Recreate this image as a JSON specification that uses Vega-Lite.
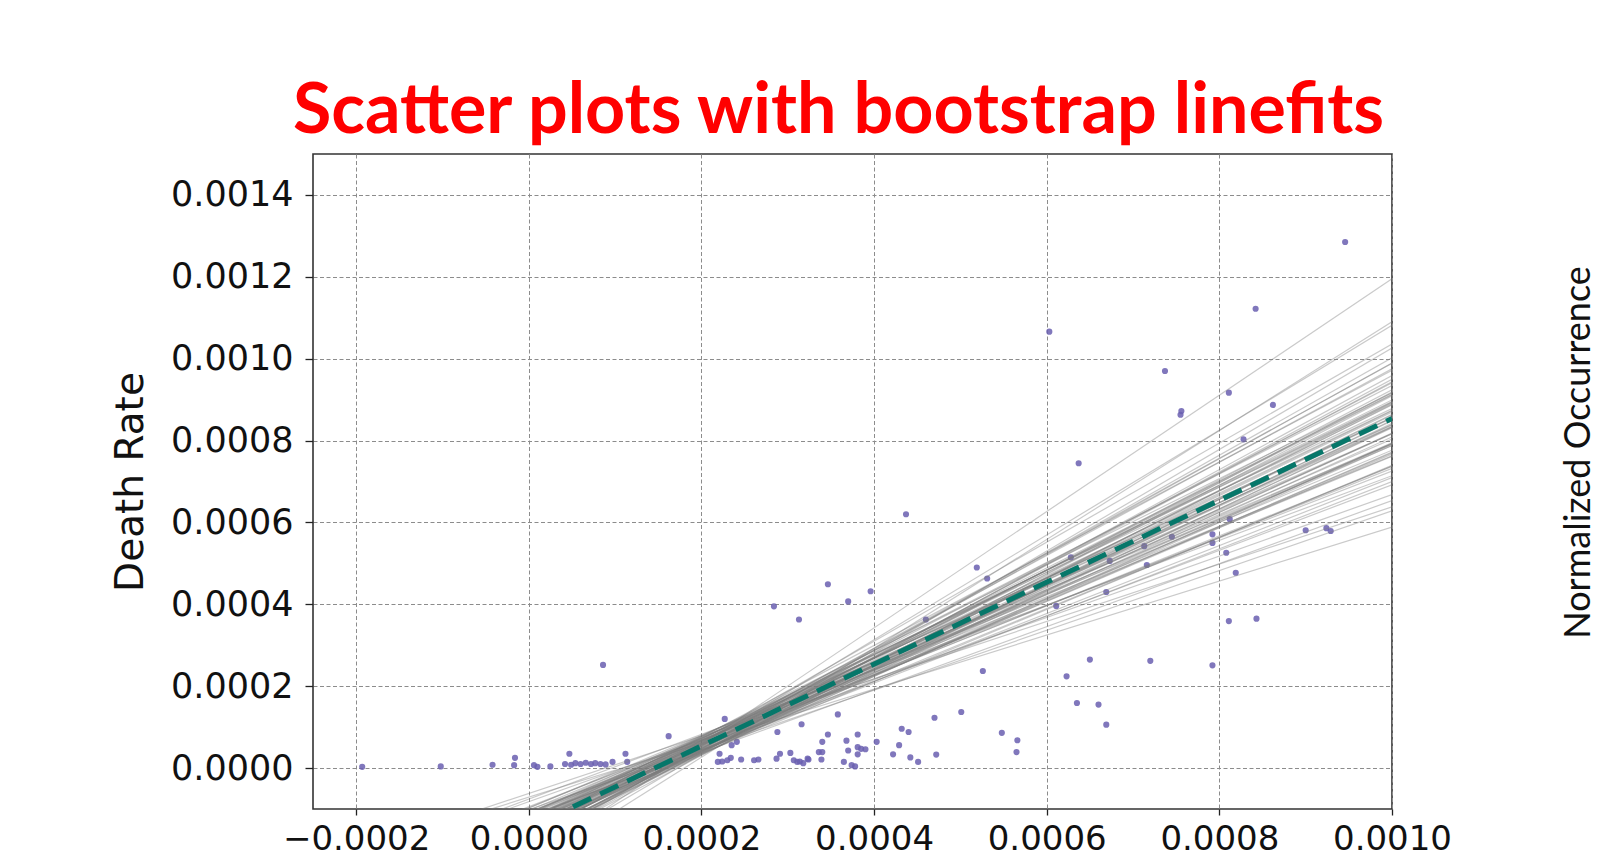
{
  "$schema": "https://vega.github.io/schema/vega-lite/v6.json",
  "width": 1079,
  "height": 655,
  "autosize": "none",
  "padding": {"left": 313, "top": 154, "right": 209, "bottom": 53},
  "background": "white",
  "title": {
    "text": "Scatter plots with bootstrap linefits",
    "font": "Lato",
    "fontSize": 70,
    "fontWeight": "bold",
    "color": "#ff0000",
    "anchor": "middle",
    "dx": -14,
    "offset": 6
  },
  "config": {
    "view": {"stroke": "#333333", "strokeWidth": 1.6},
    "axis": {
      "labelFont": "DejaVu Sans",
      "labelColor": "#111111",
      "tickColor": "#222222",
      "tickWidth": 1.3,
      "domain": false,
      "gridColor": "#8c8c8c",
      "gridDash": [4, 2.5],
      "gridWidth": 1,
      "gridOpacity": 1,
      "labelOverlap": false,
      "labelFlush": false,
      "labelBound": false
    },
    "axisX": {"labelFontSize": 34, "tickSize": 6, "labelPadding": 7},
    "axisY": {"labelFontSize": 35, "tickSize": 8, "labelPadding": 12}
  },
  "layer": [
    {
      "layer": [
        {
          "data": {
            "values": [
              {"x": -1.93e-4, "y": 0.03e-4}, {"x": -1.02e-4, "y": 0.04e-4}, {"x": -0.42e-4, "y": 0.08e-4},
              {"x": -0.17e-4, "y": 0.07e-4}, {"x": -0.16e-4, "y": 0.25e-4}, {"x": 0.06e-4, "y": 0.07e-4},
              {"x": 0.10e-4, "y": 0.03e-4}, {"x": 0.25e-4, "y": 0.04e-4}, {"x": 0.42e-4, "y": 0.10e-4},
              {"x": 0.47e-4, "y": 0.35e-4}, {"x": 0.49e-4, "y": 0.08e-4}, {"x": 0.54e-4, "y": 0.12e-4},
              {"x": 0.60e-4, "y": 0.10e-4}, {"x": 0.66e-4, "y": 0.13e-4}, {"x": 0.72e-4, "y": 0.10e-4},
              {"x": 0.77e-4, "y": 0.12e-4}, {"x": 0.83e-4, "y": 0.10e-4}, {"x": 0.89e-4, "y": 0.09e-4},
              {"x": 0.97e-4, "y": 0.15e-4}, {"x": 1.12e-4, "y": 0.35e-4}, {"x": 1.14e-4, "y": 0.15e-4},
              {"x": 0.86e-4, "y": 2.52e-4},
              {"x": 1.62e-4, "y": 0.78e-4}, {"x": 2.27e-4, "y": 1.20e-4}, {"x": 2.84e-4, "y": 3.95e-4},
              {"x": 3.13e-4, "y": 3.63e-4}, {"x": 2.88e-4, "y": 0.88e-4}, {"x": 3.16e-4, "y": 1.07e-4},
              {"x": 2.41e-4, "y": 0.64e-4}, {"x": 2.35e-4, "y": 0.56e-4}, {"x": 2.21e-4, "y": 0.35e-4},
              {"x": 2.19e-4, "y": 0.15e-4}, {"x": 2.24e-4, "y": 0.16e-4}, {"x": 2.30e-4, "y": 0.19e-4},
              {"x": 2.34e-4, "y": 0.25e-4}, {"x": 2.46e-4, "y": 0.21e-4}, {"x": 2.61e-4, "y": 0.19e-4},
              {"x": 2.66e-4, "y": 0.21e-4}, {"x": 2.87e-4, "y": 0.23e-4}, {"x": 2.91e-4, "y": 0.35e-4},
              {"x": 3.03e-4, "y": 0.37e-4}, {"x": 3.07e-4, "y": 0.19e-4}, {"x": 3.11e-4, "y": 0.15e-4},
              {"x": 3.14e-4, "y": 0.16e-4}, {"x": 3.18e-4, "y": 0.12e-4}, {"x": 3.24e-4, "y": 0.21e-4},
              {"x": 3.465e-4, "y": 4.49e-4}, {"x": 3.96e-4, "y": 4.32e-4}, {"x": 3.70e-4, "y": 4.07e-4},
              {"x": 3.58e-4, "y": 1.31e-4}, {"x": 3.465e-4, "y": 0.82e-4}, {"x": 3.81e-4, "y": 0.82e-4},
              {"x": 3.40e-4, "y": 0.64e-4}, {"x": 3.68e-4, "y": 0.67e-4}, {"x": 4.03e-4, "y": 0.64e-4},
              {"x": 4.32e-4, "y": 0.96e-4}, {"x": 4.40e-4, "y": 0.88e-4}, {"x": 4.29e-4, "y": 0.56e-4},
              {"x": 4.22e-4, "y": 0.335e-4}, {"x": 4.42e-4, "y": 0.26e-4}, {"x": 4.51e-4, "y": 0.15e-4},
              {"x": 3.36e-4, "y": 0.39e-4}, {"x": 3.40e-4, "y": 0.39e-4}, {"x": 3.39e-4, "y": 0.21e-4},
              {"x": 3.65e-4, "y": 0.15e-4}, {"x": 3.70e-4, "y": 0.43e-4}, {"x": 3.74e-4, "y": 0.07e-4},
              {"x": 3.78e-4, "y": 0.04e-4}, {"x": 3.81e-4, "y": 0.51e-4}, {"x": 3.85e-4, "y": 0.47e-4},
              {"x": 3.90e-4, "y": 0.46e-4}, {"x": 3.81e-4, "y": 0.335e-4}, {"x": 3.23e-4, "y": 0.23e-4},
              {"x": 4.37e-4, "y": 6.20e-4}, {"x": 4.60e-4, "y": 3.63e-4}, {"x": 4.70e-4, "y": 1.23e-4},
              {"x": 4.72e-4, "y": 0.33e-4},
              {"x": 5.19e-4, "y": 4.90e-4}, {"x": 5.31e-4, "y": 4.63e-4}, {"x": 5.26e-4, "y": 2.37e-4},
              {"x": 5.01e-4, "y": 1.37e-4}, {"x": 5.48e-4, "y": 0.86e-4}, {"x": 5.66e-4, "y": 0.68e-4},
              {"x": 5.65e-4, "y": 0.39e-4},
              {"x": 6.03e-4, "y": 10.66e-4}, {"x": 6.37e-4, "y": 7.445e-4}, {"x": 6.11e-4, "y": 3.96e-4},
              {"x": 6.28e-4, "y": 5.15e-4}, {"x": 6.73e-4, "y": 5.06e-4}, {"x": 7.13e-4, "y": 5.42e-4},
              {"x": 7.16e-4, "y": 4.96e-4}, {"x": 7.45e-4, "y": 5.65e-4}, {"x": 6.69e-4, "y": 4.30e-4},
              {"x": 6.50e-4, "y": 2.65e-4}, {"x": 7.20e-4, "y": 2.62e-4}, {"x": 6.23e-4, "y": 2.24e-4},
              {"x": 6.35e-4, "y": 1.59e-4}, {"x": 6.60e-4, "y": 1.55e-4}, {"x": 6.69e-4, "y": 1.06e-4},
              {"x": 7.37e-4, "y": 9.70e-4}, {"x": 7.56e-4, "y": 8.72e-4}, {"x": 7.55e-4, "y": 8.63e-4},
              {"x": 9.457e-4, "y": 12.85e-4}, {"x": 8.42e-4, "y": 11.22e-4}, {"x": 8.11e-4, "y": 9.17e-4},
              {"x": 8.62e-4, "y": 8.87e-4}, {"x": 8.28e-4, "y": 8.03e-4}, {"x": 8.12e-4, "y": 6.08e-4},
              {"x": 9.00e-4, "y": 5.81e-4}, {"x": 9.24e-4, "y": 5.86e-4}, {"x": 9.29e-4, "y": 5.79e-4},
              {"x": 7.92e-4, "y": 5.71e-4}, {"x": 7.92e-4, "y": 5.50e-4}, {"x": 8.08e-4, "y": 5.26e-4},
              {"x": 8.19e-4, "y": 4.77e-4}, {"x": 8.11e-4, "y": 3.59e-4}, {"x": 8.43e-4, "y": 3.65e-4},
              {"x": 7.92e-4, "y": 2.51e-4}
            ]
          },
          "mark": {"type": "circle", "size": 38, "color": "#6a5fb0", "opacity": 0.85, "clip": true},
          "encoding": {
            "x": {
              "field": "x", "type": "quantitative", "title": null,
              "scale": {"domain": [-0.00025, 0.001], "nice": false, "zero": false},
              "axis": {"values": [-0.0002, 0, 0.0002, 0.0004, 0.0006, 0.0008, 0.001], "format": ".4f", "grid": true}
            },
            "y": {
              "field": "y", "type": "quantitative", "title": "Death Rate",
              "scale": {"domain": [-0.0001, 0.0015], "nice": false, "zero": false},
              "axis": {
                "values": [0, 0.0002, 0.0004, 0.0006, 0.0008, 0.001, 0.0012, 0.0014],
                "format": ".4f", "grid": true,
                "titleFont": "DejaVu Sans", "titleFontSize": 39, "titleFontWeight": "normal",
                "titleColor": "#111111", "titlePadding": 20
              }
            }
          }
        },
        {
          "data": {
            "values": [
              {"x1": -2e-4, "y1": -2.032e-4, "x2": 10e-4, "y2": 5.888e-4},
              {"x1": -2e-4, "y1": -2.02e-4, "x2": 10e-4, "y2": 6.38e-4},
              {"x1": -2e-4, "y1": -2.476e-4, "x2": 10e-4, "y2": 6.284e-4},
              {"x1": -2e-4, "y1": -2.32e-4, "x2": 10e-4, "y2": 6.68e-4},
              {"x1": -2e-4, "y1": -2.704e-4, "x2": 10e-4, "y2": 6.536e-4},
              {"x1": -2e-4, "y1": -2.338e-4, "x2": 10e-4, "y2": 7.142e-4},
              {"x1": -2e-4, "y1": -2.68e-4, "x2": 10e-4, "y2": 6.92e-4},
              {"x1": -2e-4, "y1": -2.584e-4, "x2": 10e-4, "y2": 7.256e-4},
              {"x1": -2e-4, "y1": -2.866e-4, "x2": 10e-4, "y2": 7.094e-4},
              {"x1": -2e-4, "y1": -2.758e-4, "x2": 10e-4, "y2": 7.322e-4},
              {"x1": -2e-4, "y1": -2.83e-4, "x2": 10e-4, "y2": 7.37e-4},
              {"x1": -2e-4, "y1": -2.692e-4, "x2": 10e-4, "y2": 7.628e-4},
              {"x1": -2e-4, "y1": -3.064e-4, "x2": 10e-4, "y2": 7.376e-4},
              {"x1": -2e-4, "y1": -2.824e-4, "x2": 10e-4, "y2": 7.616e-4},
              {"x1": -2e-4, "y1": -3.166e-4, "x2": 10e-4, "y2": 7.394e-4},
              {"x1": -2e-4, "y1": -2.758e-4, "x2": 10e-4, "y2": 7.922e-4},
              {"x1": -2e-4, "y1": -3.10e-4, "x2": 10e-4, "y2": 7.70e-4},
              {"x1": -2e-4, "y1": -2.92e-4, "x2": 10e-4, "y2": 7.88e-4},
              {"x1": -2e-4, "y1": -3.202e-4, "x2": 10e-4, "y2": 7.718e-4},
              {"x1": -2e-4, "y1": -3.094e-4, "x2": 10e-4, "y2": 7.946e-4},
              {"x1": -2e-4, "y1": -3.124e-4, "x2": 10e-4, "y2": 7.916e-4},
              {"x1": -2e-4, "y1": -2.986e-4, "x2": 10e-4, "y2": 8.174e-4},
              {"x1": -2e-4, "y1": -3.358e-4, "x2": 10e-4, "y2": 7.922e-4},
              {"x1": -2e-4, "y1": -3.118e-4, "x2": 10e-4, "y2": 8.162e-4},
              {"x1": -2e-4, "y1": -3.46e-4, "x2": 10e-4, "y2": 7.94e-4},
              {"x1": -2e-4, "y1": -3.01e-4, "x2": 10e-4, "y2": 8.39e-4},
              {"x1": -2e-4, "y1": -3.352e-4, "x2": 10e-4, "y2": 8.168e-4},
              {"x1": -2e-4, "y1": -3.172e-4, "x2": 10e-4, "y2": 8.348e-4},
              {"x1": -2e-4, "y1": -3.454e-4, "x2": 10e-4, "y2": 8.186e-4},
              {"x1": -2e-4, "y1": -3.304e-4, "x2": 10e-4, "y2": 8.336e-4},
              {"x1": -2e-4, "y1": -3.376e-4, "x2": 10e-4, "y2": 8.384e-4},
              {"x1": -2e-4, "y1": -3.196e-4, "x2": 10e-4, "y2": 8.564e-4},
              {"x1": -2e-4, "y1": -3.568e-4, "x2": 10e-4, "y2": 8.312e-4},
              {"x1": -2e-4, "y1": -3.328e-4, "x2": 10e-4, "y2": 8.552e-4},
              {"x1": -2e-4, "y1": -3.67e-4, "x2": 10e-4, "y2": 8.33e-4},
              {"x1": -2e-4, "y1": -3.22e-4, "x2": 10e-4, "y2": 8.78e-4},
              {"x1": -2e-4, "y1": -3.52e-4, "x2": 10e-4, "y2": 8.48e-4},
              {"x1": -2e-4, "y1": -3.382e-4, "x2": 10e-4, "y2": 8.738e-4},
              {"x1": -2e-4, "y1": -3.622e-4, "x2": 10e-4, "y2": 8.498e-4},
              {"x1": -2e-4, "y1": -3.514e-4, "x2": 10e-4, "y2": 8.726e-4},
              {"x1": -2e-4, "y1": -3.544e-4, "x2": 10e-4, "y2": 8.696e-4},
              {"x1": -2e-4, "y1": -3.406e-4, "x2": 10e-4, "y2": 8.954e-4},
              {"x1": -2e-4, "y1": -3.736e-4, "x2": 10e-4, "y2": 8.624e-4},
              {"x1": -2e-4, "y1": -3.538e-4, "x2": 10e-4, "y2": 8.942e-4},
              {"x1": -2e-4, "y1": -3.838e-4, "x2": 10e-4, "y2": 8.642e-4},
              {"x1": -2e-4, "y1": -3.43e-4, "x2": 10e-4, "y2": 9.17e-4},
              {"x1": -2e-4, "y1": -3.73e-4, "x2": 10e-4, "y2": 8.87e-4},
              {"x1": -2e-4, "y1": -3.592e-4, "x2": 10e-4, "y2": 9.128e-4},
              {"x1": -2e-4, "y1": -3.832e-4, "x2": 10e-4, "y2": 8.888e-4},
              {"x1": -2e-4, "y1": -3.724e-4, "x2": 10e-4, "y2": 9.116e-4},
              {"x1": -2e-4, "y1": -3.796e-4, "x2": 10e-4, "y2": 9.164e-4},
              {"x1": -2e-4, "y1": -3.616e-4, "x2": 10e-4, "y2": 9.344e-4},
              {"x1": -2e-4, "y1": -3.988e-4, "x2": 10e-4, "y2": 9.092e-4},
              {"x1": -2e-4, "y1": -3.79e-4, "x2": 10e-4, "y2": 9.41e-4},
              {"x1": -2e-4, "y1": -4.132e-4, "x2": 10e-4, "y2": 9.188e-4},
              {"x1": -2e-4, "y1": -3.724e-4, "x2": 10e-4, "y2": 9.716e-4},
              {"x1": -2e-4, "y1": -4.066e-4, "x2": 10e-4, "y2": 9.494e-4},
              {"x1": -2e-4, "y1": -3.928e-4, "x2": 10e-4, "y2": 9.752e-4},
              {"x1": -2e-4, "y1": -4.21e-4, "x2": 10e-4, "y2": 9.59e-4},
              {"x1": -2e-4, "y1": -4.144e-4, "x2": 10e-4, "y2": 9.896e-4},
              {"x1": -2e-4, "y1": -4.258e-4, "x2": 10e-4, "y2": 10.022e-4},
              {"x1": -2e-4, "y1": -4.162e-4, "x2": 10e-4, "y2": 10.358e-4},
              {"x1": -2e-4, "y1": -4.618e-4, "x2": 10e-4, "y2": 10.262e-4},
              {"x1": -2e-4, "y1": -4.546e-4, "x2": 10e-4, "y2": 10.814e-4},
              {"x1": -2e-4, "y1": -5.056e-4, "x2": 10e-4, "y2": 10.904e-4},
              {"x1": -2e-4, "y1": -5.10e-4, "x2": 10e-4, "y2": 11.95e-4},
              {"x1": -2e-4, "y1": -3.004e-4, "x2": 10e-4, "y2": 8.036e-4},
              {"x1": -2e-4, "y1": -3.58e-4, "x2": 10e-4, "y2": 8.42e-4},
              {"x1": -2e-4, "y1": -3.488e-4, "x2": 10e-4, "y2": 8.992e-4},
              {"x1": -2e-4, "y1": -3.432e-4, "x2": 10e-4, "y2": 8.088e-4},
              {"x1": -2e-4, "y1": -3.96e-4, "x2": 10e-4, "y2": 9.24e-4},
              {"x1": -2e-4, "y1": -2.796e-4, "x2": 10e-4, "y2": 7.764e-4},
              {"x1": -2e-4, "y1": -3.914e-4, "x2": 10e-4, "y2": 8.926e-4},
              {"x1": -2e-4, "y1": -3.196e-4, "x2": 10e-4, "y2": 8.564e-4},
              {"x1": -2e-4, "y1": -4.032e-4, "x2": 10e-4, "y2": 9.888e-4},
              {"x1": -2e-4, "y1": -2.844e-4, "x2": 10e-4, "y2": 6.996e-4},
              {"x1": -2e-4, "y1": -3.334e-4, "x2": 10e-4, "y2": 8.906e-4},
              {"x1": -2e-4, "y1": -3.398e-4, "x2": 10e-4, "y2": 7.882e-4},
              {"x1": -2e-4, "y1": -4.004e-4, "x2": 10e-4, "y2": 9.436e-4},
              {"x1": -2e-4, "y1": -3.13e-4, "x2": 10e-4, "y2": 7.67e-4}
            ]
          },
          "mark": {"type": "rule", "color": "#7a7a7a", "opacity": 0.4, "strokeWidth": 1.2, "clip": true},
          "encoding": {
            "x": {"field": "x1", "type": "quantitative", "title": null, "scale": {"domain": [-0.00025, 0.001], "nice": false, "zero": false}},
            "x2": {"field": "x2"},
            "y": {"field": "y1", "type": "quantitative", "title": "Death Rate", "scale": {"domain": [-0.0001, 0.0015], "nice": false, "zero": false}},
            "y2": {"field": "y2"}
          }
        }
      ]
    },
    {
      "data": {"values": [{"x1": -2e-4, "y1": -3.46e-4, "x2": 10e-4, "y2": 8.54e-4}]},
      "mark": {"type": "rule", "color": "#06776a", "strokeWidth": 5, "strokeDash": [20, 10], "clip": true},
      "encoding": {
        "x": {"field": "x1", "type": "quantitative", "title": null, "scale": {"domain": [-0.00025, 0.001], "nice": false, "zero": false}},
        "x2": {"field": "x2"},
        "y": {
          "field": "y1", "type": "quantitative", "title": "Normalized Occurrence",
          "scale": {"domain": [-0.0001, 0.0015], "nice": false, "zero": false},
          "axis": {
            "orient": "right", "labels": false, "ticks": false, "domain": false, "grid": false,
            "titleAngle": 270, "titleBaseline": "top", "titleAlign": "center", "titlePadding": 169, "titleY": 298,
            "titleFont": "Lato", "titleFontSize": 36, "titleFontWeight": "normal", "titleColor": "#111111"
          }
        },
        "y2": {"field": "y2"}
      }
    }
  ],
  "resolve": {"scale": {"y": "independent"}}
}
